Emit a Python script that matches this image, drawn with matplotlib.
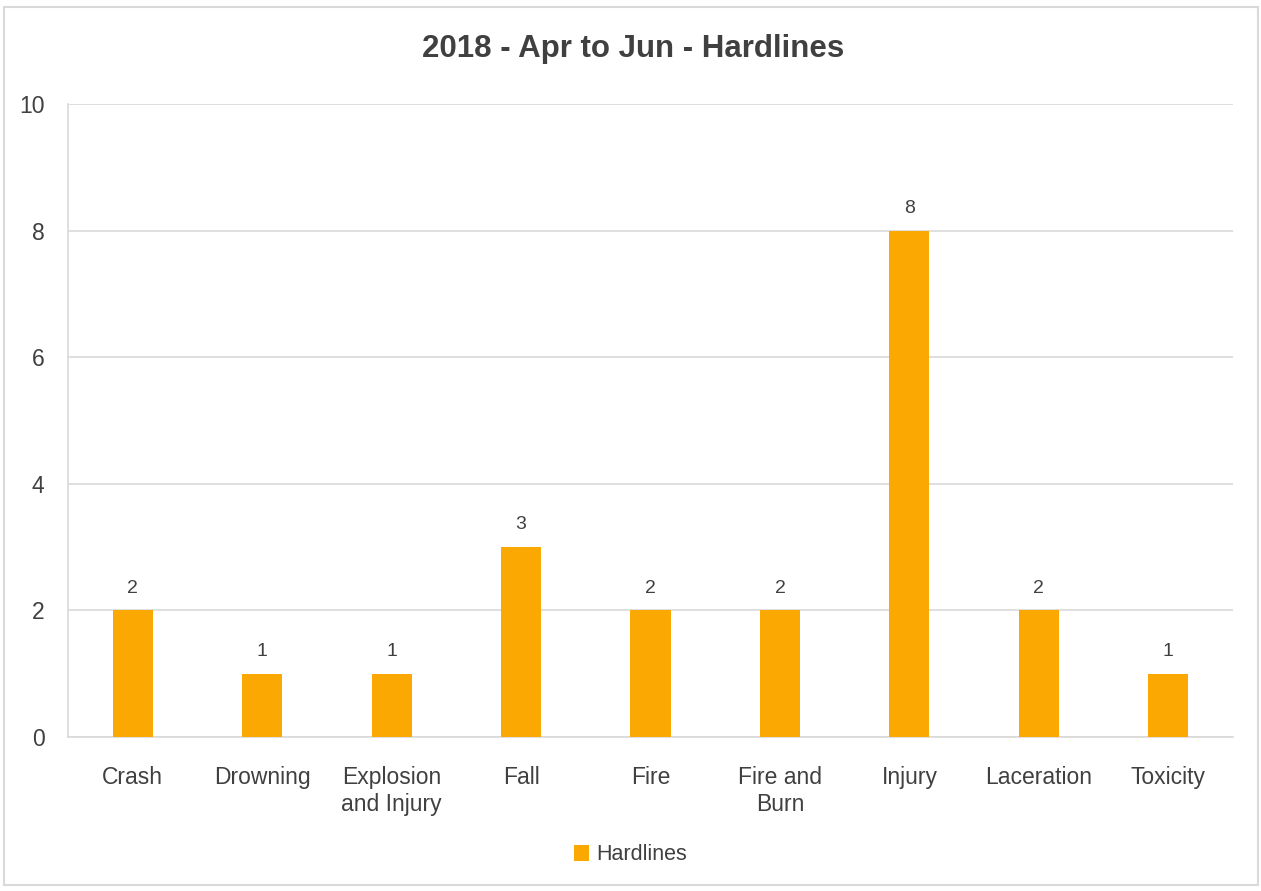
import matplotlib.pyplot as plt
from matplotlib.patches import Rectangle

categories = ['Crash', 'Drowning', 'Explosion\nand Injury', 'Fall', 'Fire',
              'Fire and\nBurn', 'Injury', 'Laceration', 'Toxicity']
counts = [2, 1, 1, 3, 2, 2, 8, 2, 1]
series_name = 'Hardlines'
title = '2018 - Apr to Jun - Hardlines'

bar_color = '#FBA803'
text_color = '#404040'
grid_color = '#D9D9D9'

plt.rcParams['font.family'] = ['Liberation Sans Narrow', 'Liberation Sans', 'DejaVu Sans']

fig = plt.figure(figsize=(12.61, 8.91), dpi=100)
ax = fig.add_axes([68 / 1261, 1 - 737 / 891, (1233 - 68) / 1261, (737 - 104) / 891])

x = range(len(categories))
bars = ax.bar(x, counts, width=0.31, color=bar_color, label=series_name, zorder=3)

for b, v in zip(bars, counts):
    ax.annotate(str(v), (b.get_x() + b.get_width() / 2, v), xytext=(0, 10),
                textcoords='offset points', ha='center', va='bottom',
                fontsize=14, color=text_color)

ax.set_xlim(-0.5, len(categories) - 0.5)
ax.set_ylim(0, 10)
ax.set_yticks(range(0, 11, 2))
ax.set_xticks(list(x))
ax.set_xticklabels(categories)
ax.tick_params(axis='both', length=0, labelsize=16.5, colors=text_color)
ax.tick_params(axis='x', pad=21)
ax.tick_params(axis='y', pad=17)
ax.yaxis.grid(True, color=grid_color, linewidth=1.2, zorder=0)
for s in ['top', 'right']:
    ax.spines[s].set_visible(False)
for s in ['left', 'bottom']:
    ax.spines[s].set_color(grid_color)
    ax.spines[s].set_linewidth(1.2)

fig.text(633 / 1261, 1 - 49 / 891, title, ha='center', va='center', fontsize=22.5,
         fontweight='bold', color=text_color)

fig.legend(handles=[bars], labels=[series_name], loc='center',
           bbox_to_anchor=(0.5, 1 - 855 / 891), frameon=False, fontsize=15.5,
           handlelength=0.7, handleheight=0.7, handletextpad=0.3,
           labelcolor=text_color)

# outer chart border
fig.patches.append(Rectangle((4 / 1261, 6 / 891), 1254 / 1261, 878 / 891,
                             transform=fig.transFigure, fill=False,
                             edgecolor=grid_color, linewidth=1.5))

fig.savefig('out.png', dpi=100)
